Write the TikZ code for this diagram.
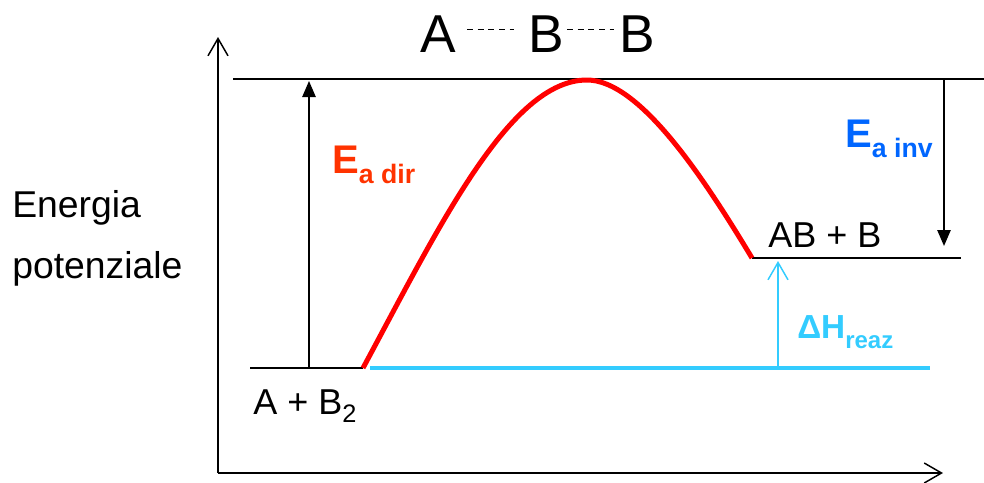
\documentclass[tikz,border=0pt]{standalone}
\usepackage{fontspec}
\setmainfont{Liberation Sans}
\usetikzlibrary{arrows.meta}
\definecolor{curveRed}{RGB}{255,0,0}
\definecolor{dirOrange}{RGB}{255,51,0}
\definecolor{invBlue}{RGB}{0,102,255}
\definecolor{reazCyan}{RGB}{51,204,255}
\newcommand{\enlbl}[4]{{\fontsize{#3}{#3}\selectfont\bfseries #1}{\fontsize{#4}{#4}\selectfont\bfseries\raisebox{-7.5pt}{#2}}}

\begin{document}
\begin{tikzpicture}[x=0.75pt,y=-0.75pt,
  lbl/.style={inner sep=0pt,anchor=base west,font=\fontsize{27}{27}\selectfont},
  ttl/.style={inner sep=0pt,anchor=base,font=\fontsize{40}{40}\selectfont},
  level/.style={line width=1.5pt},
  axis/.style={line width=1.1pt,-{Straight Barb[length=13pt,width=15pt]}},
  ea/.style={line width=1.2pt,-{Triangle[length=12pt,width=10pt]}},
  dashbond/.style={line width=1.1pt,dash pattern=on 4.5pt off 3.5pt}]
\useasboundingbox (0,0) rectangle (984,482);

% axes
\coordinate (O) at (218,473);
\coordinate (ytop) at (218,37);
\coordinate (xend) at (943,473);
\draw[axis] (O) -- (ytop);
\draw[axis] (O) -- (xend);

% energy levels
\coordinate (top0) at (233,79);
\coordinate (top1) at (984,79);
\coordinate (reac0) at (250,368);
\coordinate (reac1) at (363,368);
\coordinate (prod0) at (752,258);
\coordinate (prod1) at (961,258);
\coordinate (peak) at (587,80);
\draw[level] (top0) -- (top1);
\draw[level] (reac0) -- (reac1);
\draw[level] (prod0) -- (prod1);

% reaction path
\coordinate (cy0) at (370,368);
\coordinate (cy1) at (930,368);
\draw[reazCyan,line width=3pt] (cy0) -- (cy1);
\draw[curveRed,line width=3.75pt] (reac1) .. controls (440,225) and (510,80) .. (peak)
  .. controls (640,80) and (705,180) .. (prod0);

% arrows
\coordinate (dir0) at (309,368);
\coordinate (dir1) at (309,81);
\coordinate (inv0) at (944,80);
\coordinate (inv1) at (944,246);
\coordinate (dh0) at (778,368);
\coordinate (dh1) at (778,261);
\draw[ea] (dir0) -- (dir1);
\draw[ea] (inv0) -- (inv1);
\draw[reazCyan,line width=1.1pt,-{Straight Barb[length=13pt,width=15pt]}] (dh0) -- (dh1);

% activated complex
\node[ttl] (tA) at (438,52) {A};
\node[ttl] (tB1) at (546,52) {B};
\node[ttl] (tB2) at (637,52) {B};
\draw[dashbond] ([shift={(11,-4)}]tA.east) -- ([shift={(-14,-4)}]tB1.west);
\draw[dashbond] ([shift={(3,-4)}]tB1.east) -- ([shift={(-5,-4)}]tB2.west);

% labels
\node[lbl,font=\fontsize{28}{28}\selectfont] (en1) at (12,217) {Energia};
\node[lbl,font=\fontsize{28}{28}\selectfont] (en2) at (12,278) {potenziale};
\node[lbl] (reac) at (253,414) {A + B\raisebox{-6pt}{\fontsize{19}{19}\selectfont 2}};
\node[lbl] (prod) at (768,247) {AB + B};
\node[lbl,text=dirOrange] (eadir) at (332,173) {\enlbl{E}{a dir}{30}{20}};
\node[lbl,text=invBlue] (eainv) at (845,147) {\enlbl{E}{a inv}{30}{20}};
\node[lbl,text=reazCyan] (dh) at (797,338) {\enlbl{ΔH}{reaz}{25}{18}};
\end{tikzpicture}
\end{document}
